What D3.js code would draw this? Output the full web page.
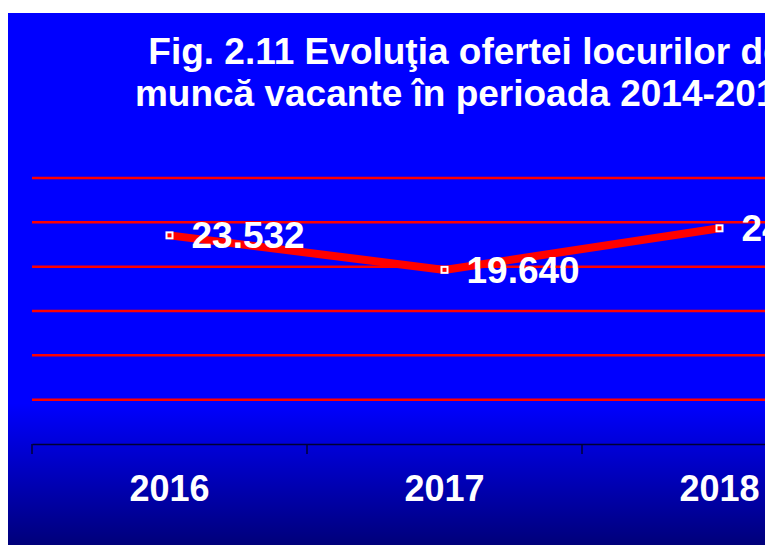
<!DOCTYPE html>
<html>
<head>
<meta charset="utf-8">
<script src="https://cdn.jsdelivr.net/npm/d3@7"></script>
<style>
  body { margin: 0; background: #fff; }
  text { font-family: Arial, "Liberation Sans", sans-serif; font-weight: bold; fill: #fff; }
</style>
</head>
<body>
<div id="chart"></div>
<script>
const years = ["2016", "2017", "2018"];
const vacancies = [23532, 19640, 24328];
const yTicks = [5000, 10000, 15000, 20000, 25000, 30000];
const titleLines = ["Fig. 2.11 Evoluţia ofertei locurilor de", "muncă vacante în perioada 2014-2018"];

const width = 765, height = 545;
const margin = {top: 178, left: 32, bottom: 444};
const band = 275;

const data = years.map(function(y, i) { return {year: y, value: vacancies[i]}; });

const svg = d3.select("#chart")
  .append("svg")
  .attr("width", width)
  .attr("height", height);

const defs = svg.append("defs");
const grad = defs.append("linearGradient")
  .attr("id", "bg")
  .attr("gradientUnits", "userSpaceOnUse")
  .attr("x1", 0).attr("y1", 0)
  .attr("x2", 0).attr("y2", height);
grad.append("stop").attr("offset", "0.74").attr("stop-color", "#0000ff");
grad.append("stop").attr("offset", "1").attr("stop-color", "#00007a");

svg.append("rect")
  .attr("x", 8).attr("y", 13)
  .attr("width", width - 8).attr("height", height - 13)
  .attr("fill", "url(#bg)");

// title
svg.selectAll(".title")
  .data(titleLines)
  .enter()
  .append("text")
    .attr("class", "title")
    .attr("x", 466)
    .attr("y", function(d, i) { return 64 + i * 42; })
    .attr("text-anchor", "middle")
    .style("font-size", "37px")
    .text(function(d) { return d; });

const xScale = d3.scaleBand()
  .domain(years)
  .range([margin.left, margin.left + band * years.length]);

const yScale = d3.scaleLinear()
  .domain([0, 30000])
  .range([margin.bottom, margin.top]);

// gridlines
svg.selectAll(".grid")
  .data(yTicks)
  .enter()
  .append("line")
    .attr("class", "grid")
    .attr("x1", margin.left)
    .attr("x2", width)
    .attr("y1", function(d) { return yScale(d); })
    .attr("y2", function(d) { return yScale(d); })
    .attr("stroke", "#ff0000")
    .attr("stroke-width", 2.5);

// x axis
const xAxis = svg.append("g")
  .attr("transform", `translate(0, ${yScale(0)})`)
  .call(d3.axisBottom(xScale).tickSize(0).tickFormat(""));
xAxis.select(".domain").attr("stroke", "#000033").attr("stroke-width", 1.5);

svg.selectAll(".tick-mark")
  .data(years)
  .enter()
  .append("line")
    .attr("x1", function(d) { return xScale(d); })
    .attr("x2", function(d) { return xScale(d); })
    .attr("y1", yScale(0))
    .attr("y2", yScale(0) + 10)
    .attr("stroke", "#000033")
    .attr("stroke-width", 1.5);

svg.selectAll(".xlabel")
  .data(years)
  .enter()
  .append("text")
    .attr("x", function(d) { return xScale(d) + xScale.bandwidth() / 2; })
    .attr("y", 501)
    .attr("text-anchor", "middle")
    .style("font-size", "36px")
    .text(function(d) { return d; });

// line
const line = d3.line()
  .x(function(d) { return xScale(d.year) + xScale.bandwidth() / 2; })
  .y(function(d) { return yScale(d.value); });

svg.append("path")
  .datum(data)
  .attr("d", line)
  .attr("fill", "none")
  .attr("stroke", "#ff0000")
  .attr("stroke-width", 8);

svg.selectAll(".marker")
  .data(data)
  .enter()
  .append("rect")
    .attr("x", function(d) { return xScale(d.year) + xScale.bandwidth() / 2 - 3; })
    .attr("y", function(d) { return yScale(d.value) - 3; })
    .attr("width", 6)
    .attr("height", 6)
    .attr("fill", "#ff0000")
    .attr("stroke", "#fff")
    .attr("stroke-width", 2);

const fmt = d3.formatLocale({decimal: ",", thousands: ".", grouping: [3], currency: ["", ""]}).format(",");

svg.selectAll(".vlabel")
  .data(data)
  .enter()
  .append("text")
    .attr("x", function(d) { return xScale(d.year) + xScale.bandwidth() / 2 + 22; })
    .attr("y", function(d) { return yScale(d.value) + 13; })
    .style("font-size", "37px")
    .text(function(d) { return fmt(d.value); });
</script>
</body>
</html>
